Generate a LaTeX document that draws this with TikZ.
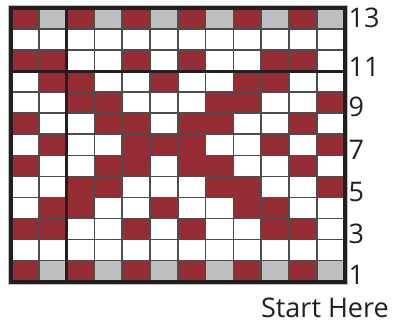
\documentclass[tikz,border=0pt]{standalone}
\usepackage{fontspec}
\setmainfont{Open Sans}
\definecolor{chartred}{RGB}{150,45,52}
\definecolor{chartgray}{RGB}{190,191,193}
\definecolor{ink}{RGB}{35,31,32}
\tikzset{
  cellr/.style={fill=chartred},
  cellw/.style={fill=white},
  cellg/.style={fill=chartgray},
  rowlabel/.style={anchor=west,inner sep=0pt,font=\fontsize{27}{30}\selectfont,text=ink}
}
\begin{document}
\begin{tikzpicture}[x=27.8pt,y=21.04pt]
  \useasboundingbox (-0.396,-2.02) rectangle (13.741,13.38);
  % halo round the frame
  \draw[black!25,line width=6.5pt] (0,0) rectangle (12,13);
  % cells, row 1 at the bottom
  \foreach \codes [count=\j] in {
      {r,g,r,g,r,g,r,g,r,g,r,g},
      {w,w,w,w,w,w,w,w,w,w,w,w},
      {r,r,w,w,r,w,r,w,w,r,r,w},
      {w,r,r,w,w,r,w,w,r,r,w,w},
      {w,w,r,r,w,w,w,r,r,w,w,r},
      {r,w,w,r,r,w,r,r,w,w,r,w},
      {w,r,w,w,r,r,r,w,w,r,w,r},
      {r,w,w,r,r,w,r,r,w,w,r,w},
      {w,w,r,r,w,w,w,r,r,w,w,r},
      {w,r,r,w,w,r,w,w,r,r,w,w},
      {r,r,w,w,r,w,r,w,w,r,r,w},
      {w,w,w,w,w,w,w,w,w,w,w,w},
      {r,g,r,g,r,g,r,g,r,g,r,g}}
    \foreach \c [count=\i] in \codes
      \fill[cell\c] (\i-1,\j-1) rectangle (\i,\j);
  % grid
  \foreach \i in {1,...,11}
    \draw[ink!80,line width=1.5pt] (\i,0) -- (\i,13);
  \foreach \j in {1,...,12}
    \draw[ink!80,line width=1.5pt] (0,\j) -- (12,\j);
  \draw[ink,line width=3pt] (2,0) -- (2,13);
  \draw[ink,line width=3pt] (0,10) -- (12,10);
  % frame
  \draw[ink,line width=4pt] (0,0) rectangle (12,13);
  % row numbers
  \foreach \n/\y in {13/12.52,11/10.22,9/8.29,7/6.25,5/4.25,3/2.26,1/0.31}
    \node (row\n) at (12.14,\y) [rowlabel] {\n};
  \node (start) at (8.99,-1.69) [rowlabel,anchor=base west] {Start Here};
\end{tikzpicture}
\end{document}
